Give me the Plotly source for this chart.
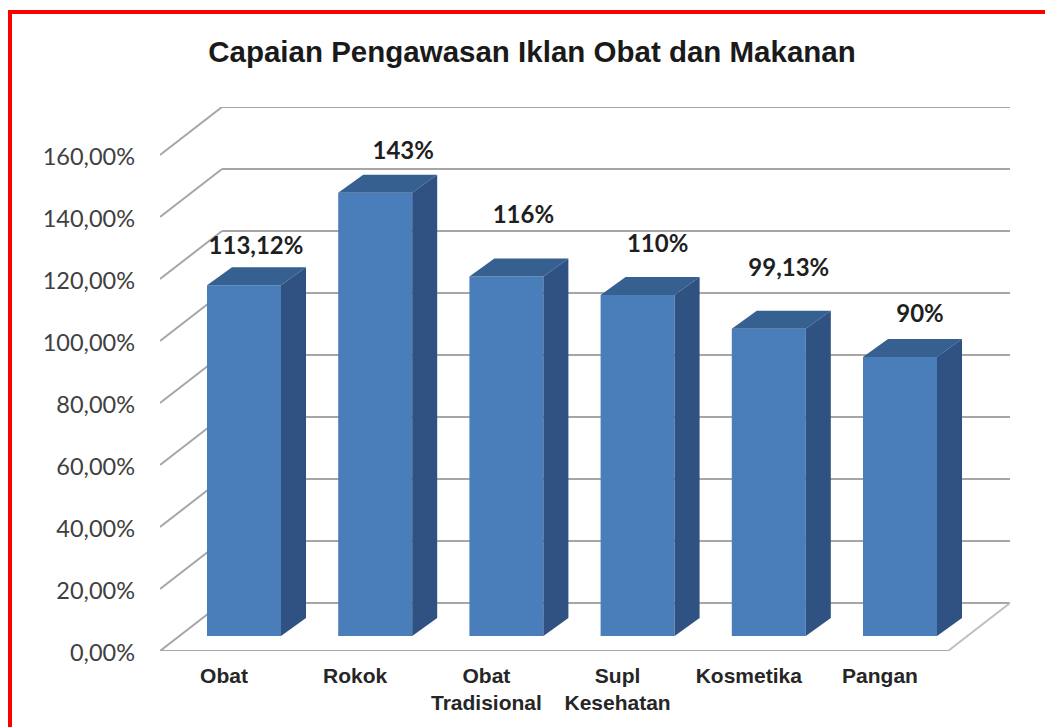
import plotly.graph_objects as go

categories = ["Obat", "Rokok", "Obat<br>Tradisional", "Supl<br>Kesehatan", "Kosmetika", "Pangan"]
values = [113.12, 143, 116, 110, 99.13, 90]
value_labels = ["113,12%", "143%", "116%", "110%", "99,13%", "90%"]
y_ticks = [0, 20, 40, 60, 80, 100, 120, 140, 160]
y_tick_labels = ["0,00%", "20,00%", "40,00%", "60,00%", "80,00%", "100,00%", "120,00%", "140,00%", "160,00%"]
title = "Capaian Pengawasan Iklan Obat dan Makanan"

W, H = 1045, 727
L, R, T, B = 160, 1010, 107, 651
PX_Y = 3.1
PX_X = 131.2
X0 = (160 - 244) / PX_X
X1 = (1010 - 244) / PX_X
Y1 = (B - T) / PX_Y
WALL_DX = 62 / PX_X
WALL_DY = 48 / PX_Y
BAR_W = 74 / PX_X
BAR_BASE = 15 / PX_Y
BAR_DX = 25 / PX_X
BAR_DY = 18 / PX_Y
LABEL_SHIFT = [12, 28, 17, 20, 20, 20]
LABEL_LIFT = [16.9, 17.6, 24, 20.6, 23.7, 18]

FRONT, TOP_C, SIDE = "#4a7ebb", "#36608f", "#2f5282"
GRID = "#a6a6a6"
xs = list(range(len(values)))

fig = go.Figure()
fig.add_trace(go.Bar(x=xs, y=values, base=BAR_BASE, width=BAR_W,
                     marker=dict(color=FRONT, line=dict(width=0)), showlegend=False, hoverinfo="skip"))

for x, v in zip(xs, values):
    a, b = x - BAR_W / 2, x + BAR_W / 2
    top = v + BAR_BASE
    fig.add_trace(go.Scatter(x=[a, b, b + BAR_DX, a + BAR_DX, a],
                             y=[top, top, top + BAR_DY, top + BAR_DY, top],
                             fill="toself", fillcolor=TOP_C, mode="none", showlegend=False, hoverinfo="skip"))
    fig.add_trace(go.Scatter(x=[b, b + BAR_DX, b + BAR_DX, b, b],
                             y=[BAR_BASE, BAR_BASE + BAR_DY, top + BAR_DY, top, BAR_BASE],
                             fill="toself", fillcolor=SIDE, mode="none", showlegend=False, hoverinfo="skip"))

fig.add_trace(go.Scatter(
    x=[x + s / PX_X for x, s in zip(xs, LABEL_SHIFT)],
    y=[v + l for v, l in zip(values, LABEL_LIFT)],
    text=value_labels, mode="text", textposition="middle center",
    textfont=dict(family="Lato, sans-serif", size=24, color="#1f1f1f", weight="bold"),
    showlegend=False, hoverinfo="skip"))

shapes = []
for t in y_ticks:
    shapes.append(dict(type="line", xref="x", yref="y", layer="below", x0=X0, y0=t,
                       x1=X0 + WALL_DX, y1=t + WALL_DY, line=dict(color=GRID, width=2)))
    shapes.append(dict(type="line", xref="x", yref="y", layer="below", x0=X0 + WALL_DX, y0=t + WALL_DY,
                       x1=X1, y1=t + WALL_DY, line=dict(color=GRID, width=2)))
shapes.append(dict(type="line", xref="x", yref="y", layer="below", x0=X0, y0=0, x1=X1 - WALL_DX, y1=0,
                   line=dict(color=GRID, width=2)))
shapes.append(dict(type="line", xref="x", yref="y", layer="below", x0=X1 - WALL_DX, y0=0, x1=X1, y1=WALL_DY,
                   line=dict(color="#bfbfbf", width=2)))


def px(x):
    return (x - L) / (R - L)


def py(y):
    return (B - y) / (B - T)


RED = "#ff0000"
shapes.append(dict(type="line", xref="paper", yref="paper", layer="above", x0=px(10), x1=px(10),
                   y0=py(10), y1=py(727), line=dict(color=RED, width=4)))
shapes.append(dict(type="line", xref="paper", yref="paper", layer="above", x0=px(8), x1=px(1045),
                   y0=py(12), y1=py(12), line=dict(color=RED, width=4)))

fig.update_layout(
    width=W, height=H,
    margin=dict(l=L, r=W - R, t=T, b=H - B, autoexpand=False),
    paper_bgcolor="white", plot_bgcolor="rgba(0,0,0,0)",
    showlegend=False, shapes=shapes,
    title=dict(text=title, x=532 / W, y=1 - 52 / H, xanchor="center", yanchor="middle",
               font=dict(family="Liberation Sans, Arial, sans-serif", size=29.5, color="#1a1a1a", weight="bold")),
    xaxis=dict(range=[X0, X1], tickmode="array",
               tickvals=[x - 20 / PX_X for x in xs], ticktext=categories,
               showgrid=False, zeroline=False, showline=False, ticks="", ticklabelstandoff=10,
               tickfont=dict(family="Liberation Sans, Arial, sans-serif", size=21, color="#262626", weight="bold")),
    yaxis=dict(range=[0, Y1], tickmode="array", tickvals=y_ticks, ticktext=y_tick_labels,
               showgrid=False, zeroline=False, showline=False, ticks="", ticklabelstandoff=24, ticklabelshift=2,
               tickfont=dict(family="Lato, sans-serif", size=23.5, color="#404040")),
)
fig.write_html("out.html", config=dict(displayModeBar=False),
               post_script="document.body.style.margin='0';document.documentElement.style.overflow='hidden';")
